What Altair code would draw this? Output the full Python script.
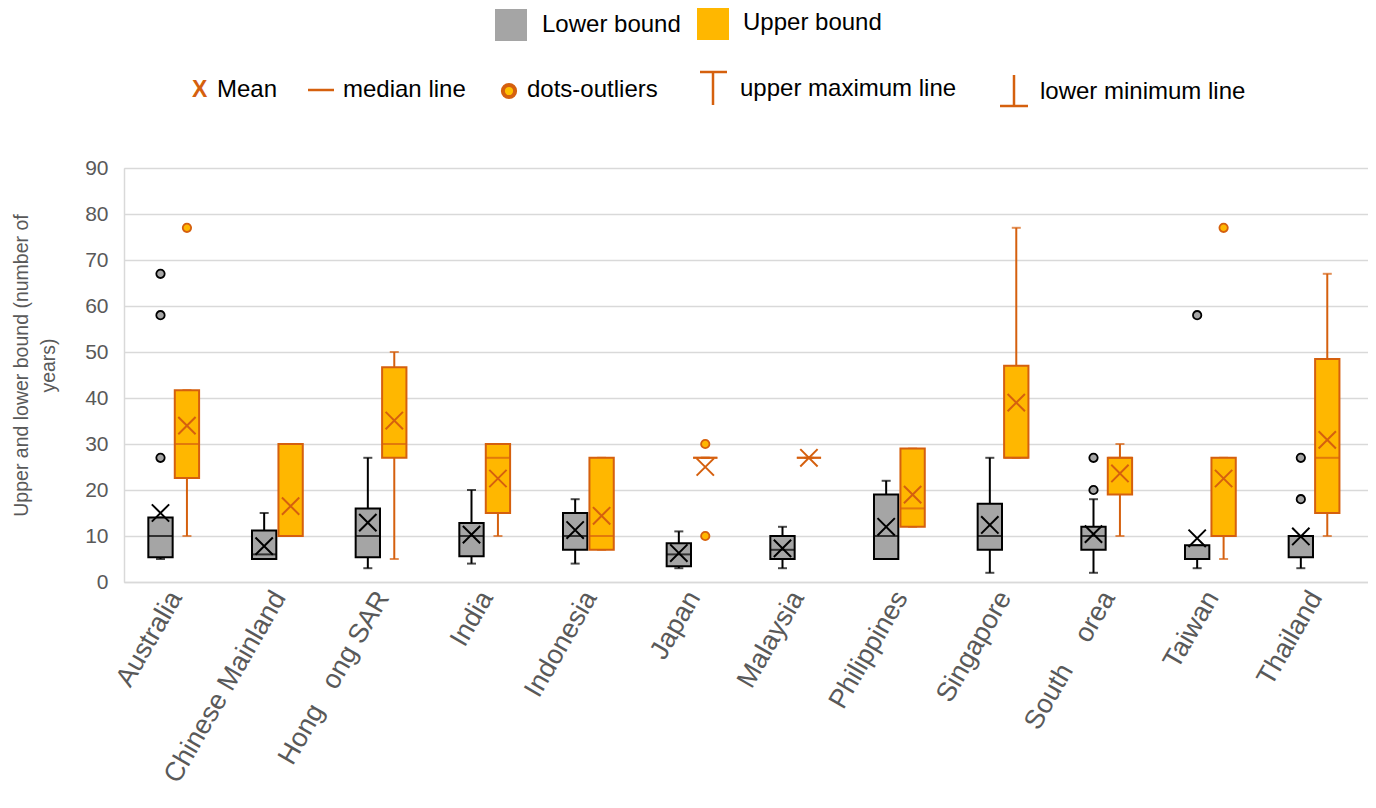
import altair as alt
import pandas as pd

categories = ["Australia", "Chinese Mainland", "Hong\u00a0\u00a0\u00a0ong SAR", "India", "Indonesia",
              "Japan", "Malaysia", "Philippines", "Singapore", "South\u00a0\u00a0\u00a0\u00a0orea",
              "Taiwan", "Thailand"]
series = ["Lower bound", "Upper bound"]

# Lower bound box statistics
lower_q1 = [5.4, 5, 5.4, 5.6, 7, 3.4, 5, 5, 7, 7, 5, 5.4]
lower_median = [10, 6, 10, 10, 10, 6, 7, 10, 10, 10, 5, 10]
lower_q3 = [14, 11.2, 16, 12.8, 15, 8.4, 10, 19, 17, 12, 8, 10]
lower_mean = [15, 7.8, 12.9, 10.3, 11.3, 6.3, 7.3, 12, 12.4, 10.4, 9.5, 9.9]
lower_min = [5, 5, 3, 4, 4, 3, 3, 5, 2, 2, 3, 3]
lower_max = [14, 15, 27, 20, 18, 11, 12, 22, 27, 18, 8, 10]
lower_outlier_cat = ["Australia", "Australia", "Australia", "South\u00a0\u00a0\u00a0\u00a0orea",
                     "South\u00a0\u00a0\u00a0\u00a0orea", "Taiwan", "Thailand", "Thailand"]
lower_outlier_val = [27, 58, 67, 20, 27, 58, 18, 27]

# Upper bound box statistics
upper_q1 = [22.6, 10, 27, 15, 7, 27, 27, 12, 27, 19, 10, 15]
upper_median = [30, 10, 30, 27, 10, 27, 27, 16, 27, 27, 10, 27]
upper_q3 = [41.7, 30, 46.7, 30, 27, 27, 27, 29, 47, 27, 27, 48.5]
upper_mean = [34, 16.5, 35.1, 22.5, 14.4, 25, 27, 19, 39, 23.6, 22.5, 30.9]
upper_min = [10, 10, 5, 10, 7, 27, 27, 12, 27, 10, 5, 10]
upper_max = [41.7, 30, 50, 30, 27, 27, 27, 29, 77, 30, 27, 67]
upper_outlier_cat = ["Australia", "Japan", "Japan", "Taiwan"]
upper_outlier_val = [77, 10, 30, 77]

GREY = "#A5A5A5"
ORANGE_FILL = "#FFB700"
ORANGE_LINE = "#D5600E"
DOT_FILL = "#FFC000"
TEXT = "#595959"
FONT = "Liberation Sans"

rows = []
for i, c in enumerate(categories):
    rows.append(dict(cat=c, series="Lower bound", q1=lower_q1[i], med=lower_median[i], q3=lower_q3[i],
                     mean=lower_mean[i], wmin=lower_min[i], wmax=lower_max[i]))
    rows.append(dict(cat=c, series="Upper bound", q1=upper_q1[i], med=upper_median[i], q3=upper_q3[i],
                     mean=upper_mean[i], wmin=upper_min[i], wmax=upper_max[i]))
box_df = pd.DataFrame(rows)

out_df = pd.DataFrame(
    [dict(cat=c, series="Lower bound", v=v) for c, v in zip(lower_outlier_cat, lower_outlier_val)]
    + [dict(cat=c, series="Upper bound", v=v) for c, v in zip(upper_outlier_cat, upper_outlier_val)]
)

x_enc = alt.X("cat:N", sort=categories, title=None,
              scale=alt.Scale(domain=categories, paddingInner=0, paddingOuter=0),
              axis=alt.Axis(labelAngle=-60, labelFontSize=27, labelColor=TEXT, labelFont=FONT,
                            ticks=False, domain=True, domainColor="#D9D9D9", domainWidth=1.5,
                            labelPadding=11, labelAlign="right", labelBaseline="middle",
                            labelLimit=400))
xoff = alt.XOffset("series:N", sort=series,
                   scale=alt.Scale(domain=series, paddingInner=0.08, paddingOuter=1, align=0.46))
fill_scale = alt.Scale(domain=series, range=[GREY, ORANGE_FILL])
stroke_scale = alt.Scale(domain=series, range=["#000000", ORANGE_LINE])
y_scale = alt.Scale(domain=[0, 90], nice=False, zero=True)

base = alt.Chart(box_df).encode(x=x_enc, xOffset=xoff)

y_axis = alt.Axis(values=list(range(0, 91, 10)), labelFontSize=21, labelColor=TEXT, labelFont=FONT,
                  ticks=False, domain=True, domainColor="#D9D9D9", domainWidth=1.5,
                  gridColor="#D9D9D9", gridWidth=1.5, labelPadding=16,
                  title=["Upper and lower bound (number of", "years)"], titleFontSize=19.5,
                  titleFont=FONT, titleColor=TEXT, titleFontWeight="normal", titlePadding=26,
                  titleLineHeight=27, titleY=197)

whisk_hi = base.mark_rule(strokeWidth=2).encode(
    y=alt.Y("q3:Q", scale=y_scale, axis=y_axis), y2="wmax:Q",
    color=alt.Color("series:N", scale=stroke_scale, legend=None))
whisk_lo = base.mark_rule(strokeWidth=2).encode(
    y=alt.Y("wmin:Q", scale=y_scale), y2="q1:Q",
    color=alt.Color("series:N", scale=stroke_scale, legend=None))
cap_hi = base.mark_tick(size=9, thickness=2).encode(
    y=alt.Y("wmax:Q", scale=y_scale), color=alt.Color("series:N", scale=stroke_scale, legend=None))
cap_lo = base.mark_tick(size=9, thickness=2).encode(
    y=alt.Y("wmin:Q", scale=y_scale), color=alt.Color("series:N", scale=stroke_scale, legend=None))
boxes = base.mark_bar(strokeWidth=2).encode(
    y=alt.Y("q1:Q", scale=y_scale), y2="q3:Q",
    fill=alt.Fill("series:N", scale=fill_scale, legend=None),
    stroke=alt.Stroke("series:N", scale=stroke_scale, legend=None))
medians = base.mark_tick(size=24, thickness=2).encode(
    y=alt.Y("med:Q", scale=y_scale), color=alt.Color("series:N", scale=stroke_scale, legend=None))
means = base.mark_point(shape="M-1,-1L1,1M-1,1L1,-1", size=300, filled=False, strokeWidth=2,
                        opacity=1).encode(
    y=alt.Y("mean:Q", scale=y_scale), color=alt.Color("series:N", scale=stroke_scale, legend=None))

out_fill = alt.Scale(domain=series, range=[GREY, DOT_FILL])
outliers = alt.Chart(out_df).mark_point(shape="circle", size=70, filled=True, strokeWidth=1.8,
                                        opacity=1).encode(
    x=x_enc, xOffset=xoff, y=alt.Y("v:Q", scale=y_scale),
    fill=alt.Fill("series:N", scale=out_fill, legend=None),
    stroke=alt.Stroke("series:N", scale=stroke_scale, legend=None))

# ---- manual legend (drawn in the top padding) ----
one = pd.DataFrame({"k": [0]})


def ltext(label, x, y, size=24):
    return alt.Chart(one).mark_text(align="left", baseline="middle", fontSize=size, font=FONT,
                                    color="#000000").encode(
        x=alt.value(x), y=alt.value(y), text=alt.value(label))


def lrect(x1, x2, y1, y2, color):
    return alt.Chart(one).mark_rect(color=color).encode(
        x=alt.value(x1), x2=alt.value(x2), y=alt.value(y1), y2=alt.value(y2))


def lrule(x1, x2, y1, y2, w=2.5):
    return alt.Chart(one).mark_rule(color=ORANGE_LINE, strokeWidth=w).encode(
        x=alt.value(x1), x2=alt.value(x2), y=alt.value(y1), y2=alt.value(y2))


legend_layers = [
    lrect(371, 403, -159, -127, GREY),
    ltext("Lower bound", 418, -143),
    lrect(573, 605, -160, -128, ORANGE_FILL),
    ltext("Upper bound", 619, -145),
    alt.Chart(one).mark_text(align="left", baseline="middle", fontSize=23, font=FONT,
                             fontWeight="bold", color=ORANGE_LINE).encode(
        x=alt.value(68), y=alt.value(-78), text=alt.value("X")),
    ltext("Mean", 93, -78),
    lrule(184, 210, -78, -78, 2.5),
    ltext("median line", 219, -78),
    alt.Chart(one).mark_point(shape="circle", size=150, filled=True, fill=DOT_FILL,
                              stroke=ORANGE_LINE, strokeWidth=4, opacity=1).encode(
        x=alt.value(385), y=alt.value(-77)),
    ltext("dots-outliers", 403, -78),
    lrule(589, 589, -96, -63, 2.5),
    lrule(576, 603, -96, -96, 2.5),
    ltext("upper maximum line", 616, -79),
    lrule(890, 890, -93, -62, 2.5),
    lrule(876, 904, -62, -62, 2.5),
    ltext("lower minimum line", 916, -76),
]

chart = alt.layer(
    whisk_hi, whisk_lo, cap_hi, cap_lo, boxes, medians, means, outliers, *legend_layers
).properties(
    width=1244, height=414,
    autosize=alt.AutoSizeParams(type="none"),
    padding={"left": 116, "top": 160, "right": 0, "bottom": 216},
).configure_view(strokeWidth=0).configure(background="white")

chart.save("out.html", embed_options={"renderer": "svg", "actions": False})
